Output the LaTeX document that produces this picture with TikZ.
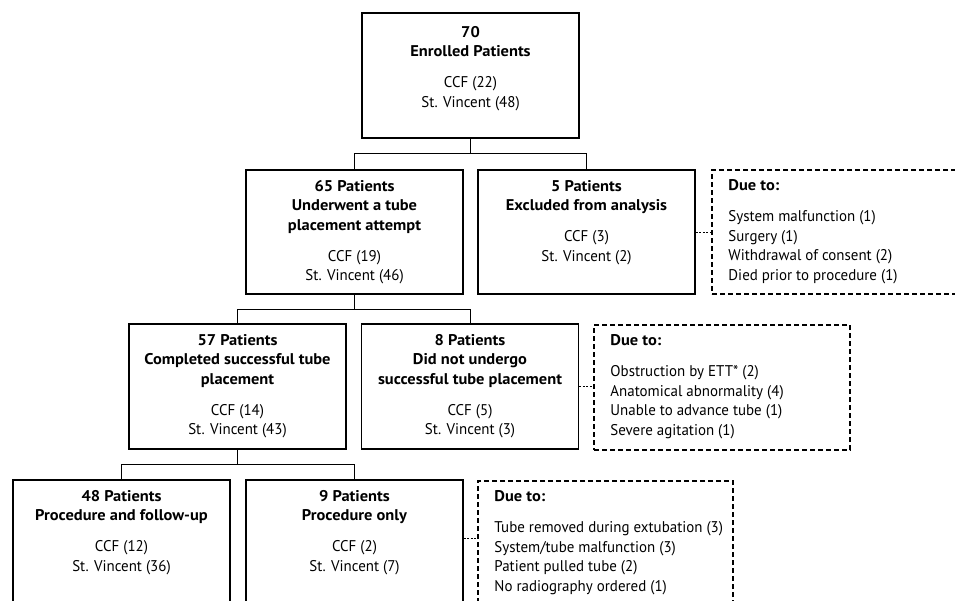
\documentclass[tikz,border=0pt]{standalone}
\usepackage{fontspec}
\setmainfont{PT Sans}[FakeStretch=0.965]
\newfontfamily\boldfam{PT Sans}[FakeStretch=1.06]
\newcommand\bt[1]{{\boldfam\bfseries #1}}
\begin{document}
\begin{tikzpicture}[x=1pt,y=-1pt,
  box/.style={draw, line width=1.6pt, minimum width=217pt, minimum height=125pt, inner sep=0pt},
  duebox/.style={draw, line width=1.5pt, dash pattern=on 5pt off 3pt, inner sep=0pt, minimum height=125pt},
  txt/.style={anchor=north, align=center, inner sep=0pt, font=\fontsize{15.5}{19.5}\selectfont},
  lst/.style={anchor=north west, align=left, inner sep=0pt, font=\fontsize{15.5}{19.5}\selectfont},
  conn/.style={line width=1pt},
  dconn/.style={line width=0.9pt, dash pattern=on 2pt off 1.5pt}]
\useasboundingbox (0,0) rectangle (955,600);
\clip (0,0) rectangle (955,600);

% row 1
\node[box] (top) at (470.5,75.5) {};
\node[txt] (topt) at ([yshift=-14pt]top.north) {\bt{70}\\\bt{Enrolled Patients}\\[11.5pt]CCF (22)\\St. Vincent (48)};

% row 2
\node[box, minimum height=124pt] (a) at (354.5,232) {};
\node[txt] (at) at ([yshift=-11pt]a.north) {\bt{65 Patients}\\\bt{Underwent a tube}\\\bt{placement attempt}\\[11.5pt]CCF (19)\\St. Vincent (46)};
\node[box, minimum height=124pt] (b) at (586.5,232) {};
\node[txt] (bt) at ([yshift=-11pt]b.north) {\bt{5 Patients}\\\bt{Excluded from analysis}\\[11.5pt]CCF (3)\\St. Vincent (2)};
\node[duebox, minimum width=260pt, minimum height=124pt] (d1) at (842,232) {};
\node[lst] (d1t) at ([xshift=17pt,yshift=-10.5pt]d1.north west) {\bt{Due to:}\\[11.5pt]System malfunction (1)\\Surgery (1)\\Withdrawal of consent (2)\\Died prior to procedure (1)};

% row 3
\node[box] (c) at (237.5,386.5) {};
\node[txt] (ct) at ([yshift=-11pt]c.north) {\bt{57 Patients}\\\bt{Completed successful tube}\\\bt{placement}\\[11.5pt]CCF (14)\\St. Vincent (43)};
\node[box] (e) at (470,386.5) {};
\node[txt] (et) at ([yshift=-11pt]e.north) {\bt{8 Patients}\\\bt{Did not undergo}\\\bt{successful tube placement}\\[11.5pt]CCF (5)\\St. Vincent (3)};
\node[duebox, minimum width=256pt] (d2) at (722,387.5) {};
\node[lst] (d2t) at ([xshift=17pt,yshift=-10.5pt]d2.north west) {\bt{Due to:}\\[11.5pt]Obstruction by ETT* (2)\\Anatomical abnormality (4)\\Unable to advance tube (1)\\Severe agitation (1)};

% row 4
\node[box] (f) at (121.5,542.5) {};
\node[txt] (ft) at ([yshift=-11pt]f.north) {\bt{48 Patients}\\\bt{Procedure and follow-up}\\[11.5pt]CCF (12)\\St. Vincent (36)};
\node[box] (g) at (354.5,542.5) {};
\node[txt] (gt) at ([yshift=-11pt]g.north) {\bt{9 Patients}\\\bt{Procedure only}\\[11.5pt]CCF (2)\\St. Vincent (7)};
\node[duebox, minimum width=255pt] (d3) at (605.5,543.5) {};
\node[lst] (d3t) at ([xshift=17pt,yshift=-10.5pt]d3.north west) {\bt{Due to:}\\[11.5pt]Tube removed during extubation (3)\\System/tube malfunction (3)\\Patient pulled tube (2)\\No radiography ordered (1)};

% connectors
\draw[conn] (top.south) -- ++(0,15) -| (a.north);
\draw[conn] (top.south) -- ++(0,15) -| (b.north);
\draw[conn] (a.south) -- ++(0,15) -| (c.north);
\draw[conn] (a.south) -- ++(0,15) -| (e.north);
\draw[conn] (c.south) -- ++(0,15) -| (f.north);
\draw[conn] (c.south) -- ++(0,15) -| (g.north);
\draw[dconn] (b.east) -- (b.east -| d1.west);
\draw[dconn] (e.east) -- (e.east -| d2.west);
\draw[dconn] ([yshift=4pt]g.east) -- ([yshift=4pt]g.east -| d3.west);
\end{tikzpicture}
\end{document}
